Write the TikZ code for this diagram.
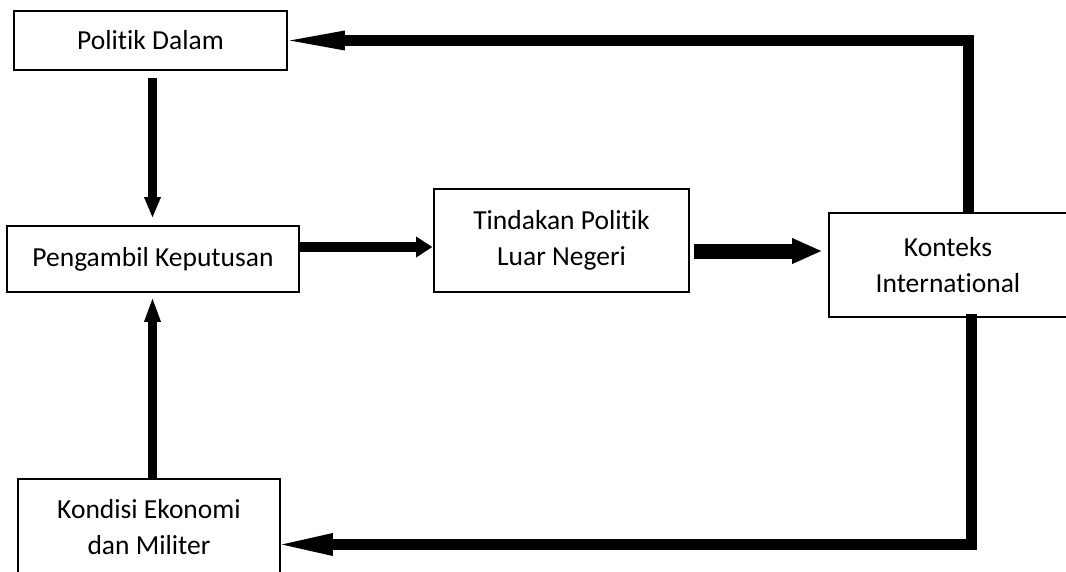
\documentclass[tikz,border=0pt]{standalone}
\usepackage{fontspec}
\setmainfont[Ligatures=NoCommon,RawFeature=-liga]{Carlito}
\usetikzlibrary{arrows.meta}
\begin{document}
\begin{tikzpicture}[x=1pt,y=-1pt,
  box/.style={draw, line width=1.6pt, inner sep=0pt, align=center,
    font=\fontsize{27.5}{36}\selectfont},
  conn/.style={line join=miter}
]
\useasboundingbox (0,0) rectangle (1066,571);
\clip (0,0) rectangle (1066,571);

\node[box, minimum width=273pt, minimum height=59pt] (pd) at (150.5,40.5) {Politik Dalam};
\node[box, minimum width=292pt, minimum height=66pt] (pk) at (153,259) {Pengambil Keputusan};
\node[box, minimum width=255pt, minimum height=103pt] (tpl) at (561.5,240.5) {Tindakan Politik\\Luar Negeri};
\node[box, minimum width=238pt, minimum height=104pt] (ki) at (948,265) {Konteks\\International};
\node[box, minimum width=262pt, minimum height=96pt] (kem) at (149,527) {Kondisi Ekonomi\\dan Militer};

% Politik Dalam -> Pengambil Keputusan
\draw[conn, line width=8.5pt, -{Triangle[length=20pt 0 0,width=17pt 0 0,line width=0pt]}, shorten <=7pt, shorten >=8pt]
  ([xshift=2pt]pd.south) -- ([xshift=-0.5pt]pk.north);
% Kondisi -> Pengambil Keputusan
\draw[conn, line width=8.5pt, -{Triangle[length=23pt 0 0,width=17pt 0 0,line width=0pt]}, shorten >=6pt]
  ([xshift=3.5pt]kem.north) -- ([xshift=-0.5pt]pk.south);
% Pengambil -> Tindakan
\draw[conn, line width=10pt, -{Triangle[length=16pt 0 0,width=21pt 0 0,line width=0pt]}, shorten >=1pt]
  ([yshift=12pt]pk.east) -- ([yshift=-6.5pt]tpl.west);
% Tindakan -> Konteks
\draw[conn, line width=15pt, -{Triangle[length=29pt 0 0,width=26pt 0 0,line width=0pt]}, shorten <=4pt, shorten >=7pt]
  ([yshift=-10.5pt]tpl.east) -- ([yshift=14pt]ki.west);
% Konteks -> Politik Dalam
\draw[conn, line width=11pt, -{Triangle[length=55pt 0 0,width=20pt 0 0,line width=0pt]}, shorten >=2pt]
  ([xshift=20.5pt]ki.north) |- (pd.east);
% Konteks -> Kondisi
\draw[conn, line width=11pt, -{Triangle[length=51pt 0 0,width=23pt 0 0,line width=0pt]}, shorten >=1pt]
  ([xshift=23.5pt,yshift=4pt]ki.south) |- ([yshift=-17.5pt]kem.east);
\end{tikzpicture}
\end{document}
